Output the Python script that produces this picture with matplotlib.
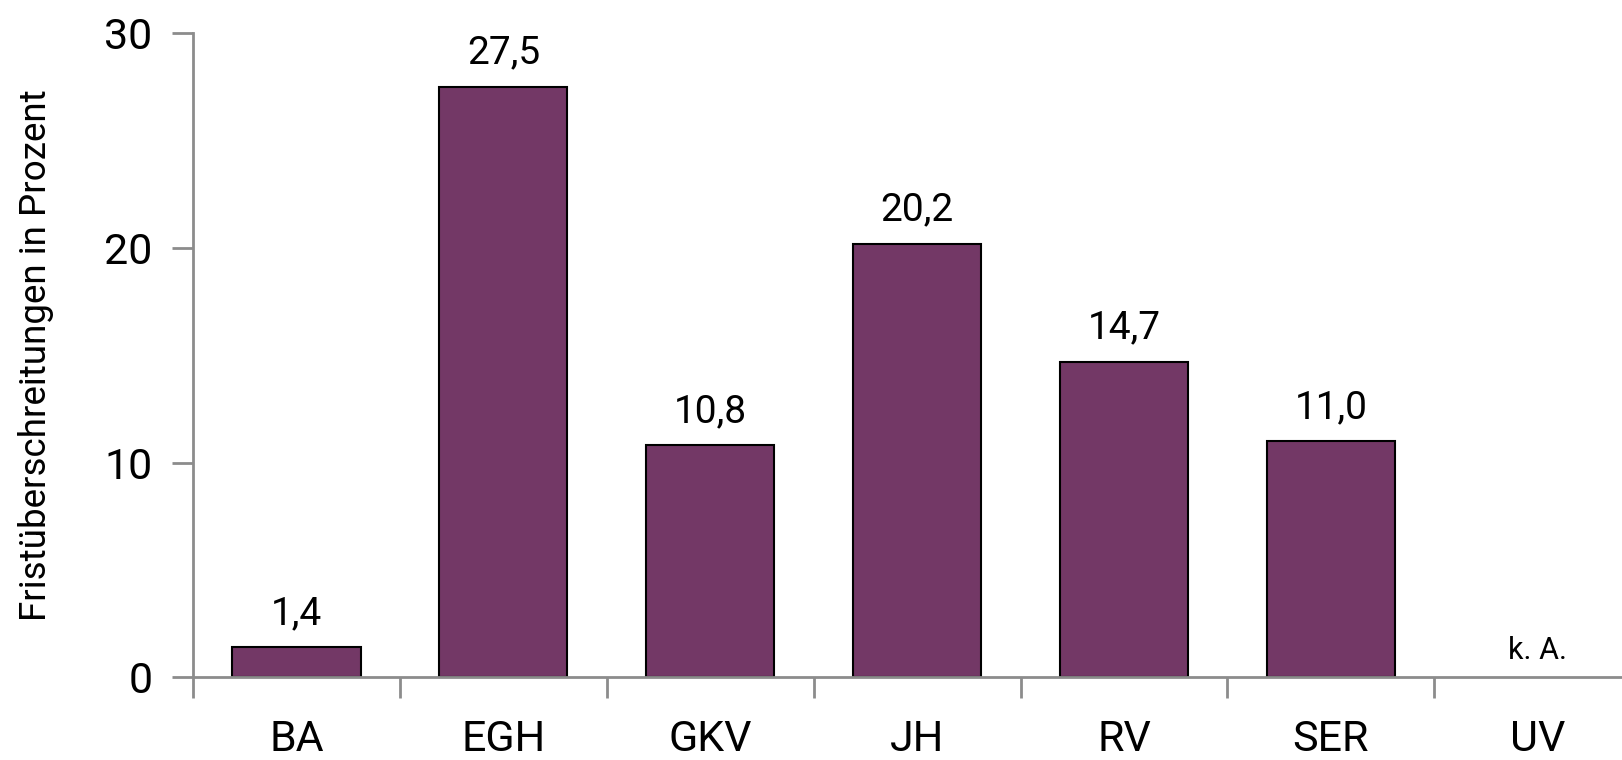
import numpy as np
import matplotlib
matplotlib.use("Agg")
import matplotlib.pyplot as plt

# data
categories = ["BA", "EGH", "GKV", "JH", "RV", "SER", "UV"]
values = [1.4, 27.5, 10.8, 20.2, 14.7, 11.0, np.nan]
labels = ["1,4", "27,5", "10,8", "20,2", "14,7", "11,0", "k. A."]

plt.rcParams["font.family"] = ["Roboto", "DejaVu Sans"]

fig = plt.figure(figsize=(16.22, 7.6), dpi=100)
ax = fig.add_axes([0.119, 0.1086, 0.8928, 0.848])

x = np.arange(len(categories))
has_val = ~np.isnan(values)
ax.bar(x[has_val], np.array(values)[has_val], width=0.62, color="#733866",
       edgecolor="black", linewidth=1.5)

# value labels above the bars
for xi, v, lab in zip(x, values, labels):
    if np.isnan(v):
        ax.text(xi, 0.6, lab, ha="center", va="bottom", fontsize=22)
    else:
        ax.text(xi, v + 0.7, lab, ha="center", va="bottom", fontsize=28)

ax.set_xlim(-0.5, len(categories) - 0.5)
ax.set_ylim(0, 30)
ax.set_yticks([0, 10, 20, 30])

# category labels between the boundary ticks
ax.set_xticks(np.arange(-0.5, len(categories), 1.0))
ax.set_xticklabels([])
ax.set_xticks(x, minor=True)
ax.set_xticklabels(categories, minor=True)
ax.tick_params(axis="x", which="minor", length=0, pad=30, labelsize=31)
ax.tick_params(axis="x", which="major", length=15, width=2, color="#8c8c8c")
ax.tick_params(axis="y", length=15, width=2, color="#8c8c8c", pad=14, labelsize=31)

ax.set_ylabel("Fristüberschreitungen in Prozent", fontsize=26.5, labelpad=36)

for side in ["top", "right"]:
    ax.spines[side].set_visible(False)
for side in ["left", "bottom"]:
    ax.spines[side].set_color("#8c8c8c")
    ax.spines[side].set_linewidth(2)

plt.savefig("out.png", dpi=100)
